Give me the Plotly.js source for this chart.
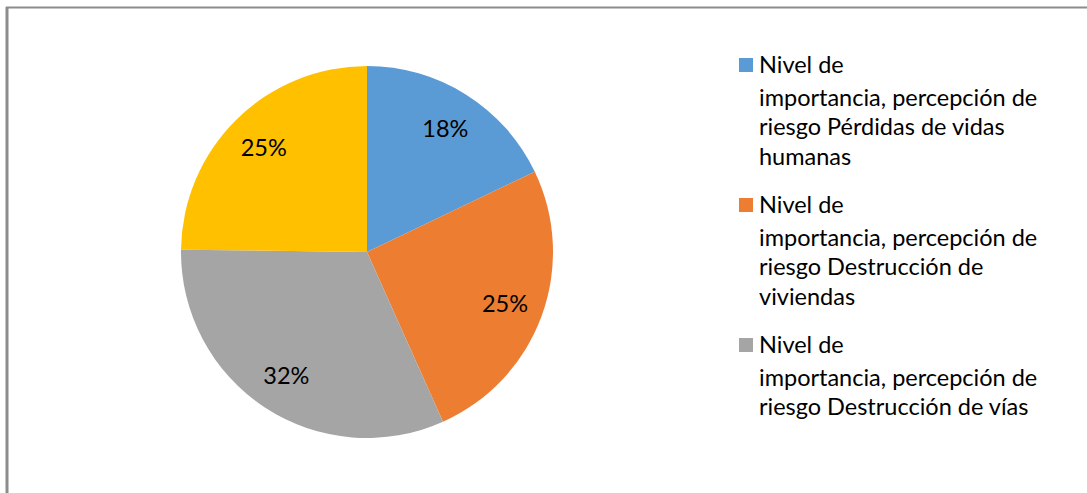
<!DOCTYPE html>
<html>
<head>
<meta charset="utf-8">
<script src="https://cdn.plot.ly/plotly-3.0.1.min.js"></script>
<style>html,body{margin:0;padding:0;background:#fff;}#chart{width:1087px;height:493px;}</style>
</head>
<body>
<div id="chart"></div>
<script>
// ---- data ----
const categories = [
  "Nivel de importancia, percepción de riesgo Pérdidas de vidas humanas",
  "Nivel de importancia, percepción de riesgo Destrucción de viviendas",
  "Nivel de importancia, percepción de riesgo Destrucción de vías",
  "Nivel de importancia, percepción de riesgo Otros"
];
const values = [17.9, 25.4, 31.9, 24.8];
const colors = ["#5B9BD5", "#ED7D31", "#A5A5A5", "#FFC000"];
// legend lines as wrapped in the reference (only the first three entries are visible)
const legendLines = [
  ["Nivel de", "importancia, percepción de", "riesgo Pérdidas de vidas", "humanas"],
  ["Nivel de", "importancia, percepción de", "riesgo Destrucción de", "viviendas"],
  ["Nivel de", "importancia, percepción de", "riesgo Destrucción de vías"]
];

// ---- layout helpers ----
const W = 1087, H = 493;
const FONT = "Lato, 'Open Sans', sans-serif";
const FS = 23.5;
const px = x => x / W;
const py = y => 1 - y / H;

const shapes = [
  {type: "line", xref: "paper", yref: "paper", x0: px(7), x1: px(7), y0: 0, y1: py(7), line: {color: "#8c8c8c", width: 3}},
  {type: "line", xref: "paper", yref: "paper", x0: px(6), x1: 1, y0: py(7.5), y1: py(7.5), line: {color: "#8c8c8c", width: 2}}
];
const annotations = [];
const lineOffsets = [0, 33, 62, 92];
legendLines.forEach((lines, i) => {
  const base = 72 + i * 140;
  shapes.push({type: "rect", xref: "paper", yref: "paper",
    x0: px(739), x1: px(753), y0: py(base - 14), y1: py(base),
    fillcolor: colors[i], line: {width: 0}});
  lines.forEach((t, j) => {
    annotations.push({xref: "paper", yref: "paper", x: px(757), y: py(base + lineOffsets[j] - 8),
      xanchor: "left", yanchor: "middle", showarrow: false, text: t,
      font: {family: FONT, size: FS, color: "#000"}});
  });
});

const domain = {x: [px(181), px(553)], y: [py(438), py(66)]};
// filled slices
const slices = {
  type: "pie", labels: categories, values: values, sort: false,
  direction: "clockwise", rotation: 0,
  marker: {colors: colors, line: {width: 0}},
  textinfo: "none", hoverinfo: "none", showlegend: false, domain: domain
};
// transparent ring carrying the percentage labels (places them in the outer part of each slice)
const labelsRing = {
  type: "pie", labels: categories, values: values, sort: false,
  direction: "clockwise", rotation: 0, hole: 0.58,
  marker: {colors: values.map(() => "rgba(0,0,0,0)"), line: {width: 0}},
  texttemplate: "%{percent:.0%}", textposition: "inside",
  insidetextorientation: "horizontal",
  textfont: {family: FONT, size: FS, color: "#000"},
  hoverinfo: "none", showlegend: false, domain: domain
};

Plotly.newPlot("chart", [slices, labelsRing], {
  width: W, height: H,
  margin: {l: 0, r: 0, t: 0, b: 0},
  paper_bgcolor: "#fff",
  showlegend: false,
  shapes: shapes,
  annotations: annotations,
  font: {family: FONT}
}, {displayModeBar: false, staticPlot: true});
</script>
</body>
</html>
